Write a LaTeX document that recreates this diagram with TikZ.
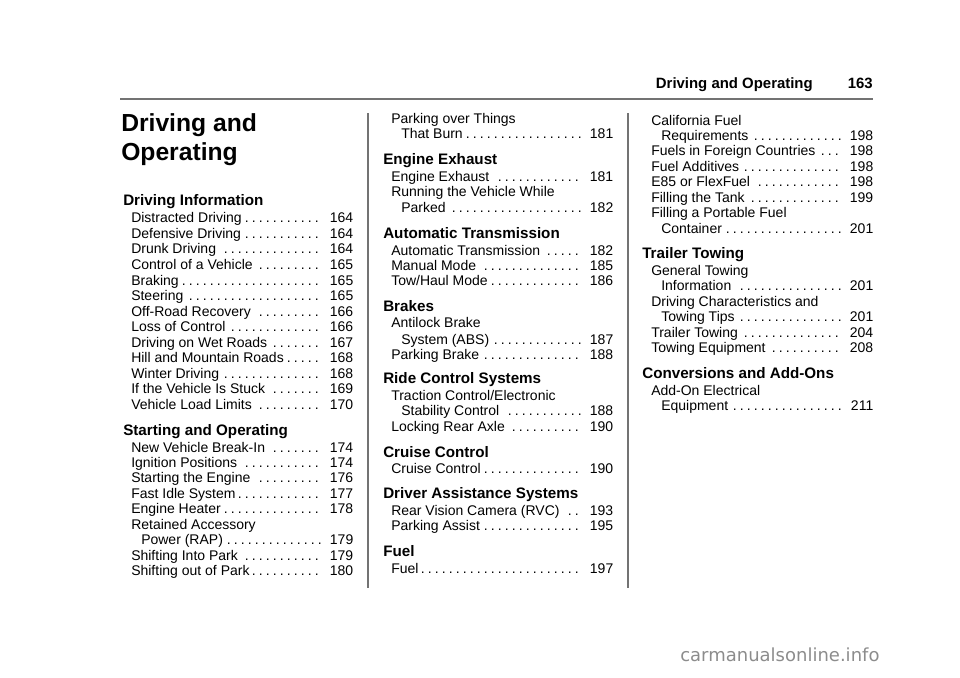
\documentclass[tikz,border=0pt]{standalone}
\usepackage{fontspec}
\setmainfont{Liberation Sans}
\newfontfamily\wmfont{DejaVu Sans}
\newcommand\bodyf{\fontsize{10.5pt}{12pt}\selectfont}
\newcommand\headf{\fontsize{11.4pt}{13pt}\selectfont\bfseries}
\newcommand\ldr{\leaders\hbox to 0.5em{\hss.\hss}\hfill\ }
\tikzset{entry/.style={anchor=base west,inner sep=0pt,font=\bodyf},
  head/.style={anchor=base west,inner sep=0pt,font=\headf},
  rulel/.style={draw=black!55,line width=1.1pt}}
\newcommand\E[5]{\node[entry] (#1) at (#2,{#3+5}) {\hbox to 166.5pt{#4\ldr#5}};}
\newcommand\I[5]{\node[entry] (#1) at ({#2+10},{#3+5}) {\hbox to 159pt{#4\ldr#5}};}
\newcommand\C[4]{\node[entry] (#1) at (#2,{#3+5}) {#4};}
\newcommand\Hd[4]{\node[head] (#1) at (#2,{#3+5.5}) {#4};}
\begin{document}
\begin{tikzpicture}[x=0.75pt,y=-0.75pt]
\useasboundingbox (0,0) rectangle (960,678);
% header
\node[anchor=base east,inner sep=0pt,font=\fontsize{11.2pt}{13pt}\selectfont\bfseries] (hdr) at (813,88) {Driving and Operating};
\node[anchor=base east,inner sep=0pt,font=\fontsize{11.2pt}{13pt}\selectfont\bfseries] (pg) at (873,88) {163};
\coordinate (r1) at (120,99); \coordinate (r2) at (873,99);
\draw[rulel] (r1) -- (r2);
\coordinate (v1a) at (368,113); \coordinate (v1b) at (368,588);
\coordinate (v2a) at (628,113); \coordinate (v2b) at (628,588);
\draw[rulel] (v1a) -- (v1b);
\draw[rulel] (v2a) -- (v2b);
% column 1
\node[anchor=base west,inner sep=0pt,font=\fontsize{18.5pt}{21pt}\selectfont\bfseries] (t1) at (121,131.5) {Driving and};
\node[anchor=base west,inner sep=0pt,font=\fontsize{18.5pt}{21pt}\selectfont\bfseries] (t2) at (121,160.5) {Operating};
\Hd{h1}{123}{200}{Driving Information}
\E{a1}{131}{217}{Distracted Driving}{164}
\E{a2}{131}{233}{Defensive Driving}{164}
\E{a3}{131}{248}{Drunk Driving}{164}
\E{a4}{131}{264}{Control of a Vehicle}{165}
\E{a5}{131}{280}{Braking}{165}
\E{a6}{131}{295}{Steering}{165}
\E{a7}{131}{311}{Off-Road Recovery}{166}
\E{a8}{131}{326}{Loss of Control}{166}
\E{a9}{131}{342}{Driving on Wet Roads}{167}
\E{a10}{131}{357}{Hill and Mountain Roads}{168}
\E{a11}{131}{373}{Winter Driving}{168}
\E{a12}{131}{388}{If the Vehicle Is Stuck}{169}
\E{a13}{131}{404}{Vehicle Load Limits}{170}
\Hd{h2}{123}{430}{Starting and Operating}
\E{b1}{131}{447}{New Vehicle Break-In}{174}
\E{b2}{131}{462}{Ignition Positions}{174}
\E{b3}{131}{477}{Starting the Engine}{176}
\E{b4}{131}{493}{Fast Idle System}{177}
\E{b5}{131}{508}{Engine Heater}{178}
\C{b6}{131}{524}{Retained Accessory}
\I{b7}{131}{539}{Power (RAP)}{179}
\E{b8}{131}{555}{Shifting Into Park}{179}
\E{b9}{131}{570}{Shifting out of Park}{180}
% column 2
\C{c1}{391}{118}{Parking over Things}
\I{c2}{391}{133}{That Burn}{181}
\Hd{h3}{383}{159}{Engine Exhaust}
\E{c3}{391}{176}{Engine Exhaust}{181}
\C{c4}{391}{191}{Running the Vehicle While}
\I{c5}{391}{207}{Parked}{182}
\Hd{h4}{383}{233}{Automatic Transmission}
\E{c6}{391}{250}{Automatic Transmission}{182}
\E{c7}{391}{265}{Manual Mode}{185}
\E{c8}{391}{280}{Tow/Haul Mode}{186}
\Hd{h5}{383}{306}{Brakes}
\C{c9}{391}{322}{Antilock Brake}
\I{c10}{391}{339}{System (ABS)}{187}
\E{c11}{391}{354}{Parking Brake}{188}
\Hd{h6}{383}{378}{Ride Control Systems}
\C{c12}{391}{395}{Traction Control/Electronic}
\I{c13}{391}{410}{Stability Control}{188}
\E{c14}{391}{426}{Locking Rear Axle}{190}
\Hd{h7}{383}{452}{Cruise Control}
\E{c15}{391}{468}{Cruise Control}{190}
\Hd{h8}{383}{493}{Driver Assistance Systems}
\E{c16}{391}{510}{Rear Vision Camera (RVC)}{193}
\E{c17}{391}{525}{Parking Assist}{195}
\Hd{h9}{383}{551}{Fuel}
\E{c18}{391}{568}{Fuel}{197}
% column 3
\C{d1}{651}{120}{California Fuel}
\I{d2}{651}{135}{Requirements}{198}
\E{d3}{651}{150}{Fuels in Foreign Countries}{198}
\E{d4}{651}{166}{Fuel Additives}{198}
\E{d5}{651}{181}{E85 or FlexFuel}{198}
\E{d6}{651}{197}{Filling the Tank}{199}
\C{d7}{651}{212}{Filling a Portable Fuel}
\I{d8}{651}{228}{Container}{201}
\Hd{h10}{642}{253}{Trailer Towing}
\C{d9}{651}{270}{General Towing}
\I{d10}{651}{285}{Information}{201}
\C{d11}{651}{301}{Driving Characteristics and}
\I{d12}{651}{316}{Towing Tips}{201}
\E{d13}{651}{332}{Trailer Towing}{204}
\E{d14}{651}{347}{Towing Equipment}{208}
\Hd{h11}{642}{373}{Conversions and Add-Ons}
\C{d15}{651}{390}{Add-On Electrical}
\I{d16}{651}{405}{Equipment}{211}
% watermark
\node[anchor=base west,inner sep=0pt,text=black!45,font=\wmfont\fontsize{13.5pt}{15pt}\selectfont] (wm) at (680,661) {carmanualsonline.info};
\end{tikzpicture}
\end{document}
